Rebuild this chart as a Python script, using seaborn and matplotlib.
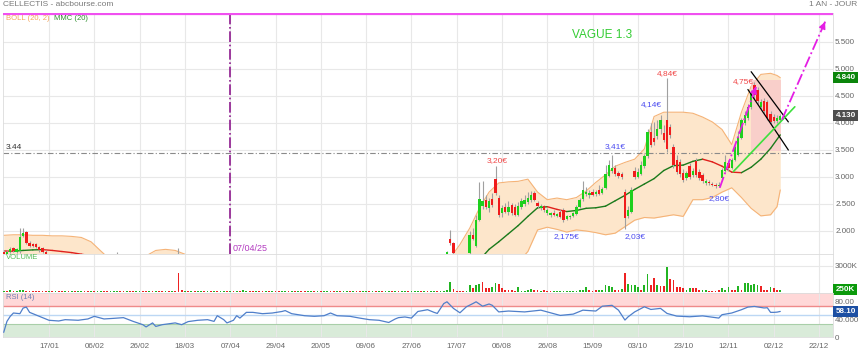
import numpy as np
import pandas as pd
import matplotlib
matplotlib.use("Agg")
import matplotlib.pyplot as plt
from matplotlib.patches import Rectangle
import seaborn as sns

nan = np.nan

# x axis = session number, 0 is the first session shown, 240 the last one
n_days = 241
late_start = 137
date_labels = ["17/01", "06/02", "26/02", "18/03", "07/04", "29/04", "20/05", "09/06",
               "27/06", "17/07", "06/08", "26/08", "15/09", "03/10", "23/10", "12/11",
               "02/12", "22/12"]
first_label_day = 14
label_step = 14

# candles, january (sessions 0-13)
jan_open = [1.62, 1.58, 1.62, 1.68, 1.62, 1.63, 1.90, 1.98, 1.78, 1.76, 1.75, 1.70, 1.68, 1.62]
jan_high = [1.64, 1.64, 1.70, 1.70, 1.68, 2.06, 2.06, 2.00, 1.82, 1.78, 1.77, 1.73, 1.70, 1.64]
jan_low = [1.56, 1.56, 1.60, 1.61, 1.60, 1.60, 1.88, 1.76, 1.70, 1.70, 1.68, 1.62, 1.60, 1.52]
jan_close = [1.58, 1.62, 1.66, 1.63, 1.66, 1.88, 1.96, 1.78, 1.72, 1.73, 1.70, 1.65, 1.62, 1.54]

# two wicks that poke above the bottom edge during spring
spike_days = [35, 54]
spike_open = [1.45, 1.46]
spike_high = [1.61, 1.68]
spike_low = [1.40, 1.42]
spike_close = [1.48, 1.44]

# candles from session 137 to 240 (nan = below the visible range)
late_open = [1.56, 1.86, 1.77, nan, nan, nan, nan, 1.60, 1.93, 1.72,
             2.20, 2.46, 2.58, 2.42, 2.60, 2.97, 2.62, 2.33, 2.45, 2.36,
             2.48, 2.44, 2.30, 2.44, 2.50, 2.54, 2.58, 2.70, 2.52, 2.42,
             2.46, 2.34, 2.30, 2.34, 2.28, 2.36, 2.38, 2.22, 2.25, 2.28,
             2.32, 2.45, 2.60, 2.68, 2.66, 2.73, 2.68, 2.75, 2.70, 2.80,
             3.02, 3.12, 3.17, 3.08, 3.06, 2.72, 2.28, 2.36, 3.12, 3.00,
             3.06, 3.20, 3.38, 3.84, 3.72, 3.76, 3.88, 3.82, 4.06, 3.92,
             3.56, 3.32, 3.28, 3.08, 2.98, 3.20, 3.04, 3.30, 3.10, 3.04,
             2.88, 2.91, 2.87, 2.85, 2.83, 2.98, 3.12, 3.26, 3.16, 3.32,
             3.40, 3.72, 4.00, 4.10, 4.30, 4.70, 4.62, 4.30, 4.40, 4.38,
             4.16, 4.12, 4.03, 4.06]
late_high = [1.63, 2.02, 1.79, nan, nan, nan, nan, 2.00, 2.05, 2.30,
             2.90, 2.92, 2.66, 2.62, 2.70, 3.20, 2.66, 2.48, 2.52, 2.56,
             2.52, 2.50, 2.54, 2.62, 2.66, 2.72, 2.74, 2.74, 2.56, 2.50,
             2.49, 2.42, 2.36, 2.38, 2.34, 2.40, 2.42, 2.30, 2.30, 2.36,
             2.48, 2.62, 2.92, 2.82, 2.76, 2.78, 2.76, 2.86, 2.82, 3.22,
             3.32, 3.41, 3.22, 3.12, 3.10, 2.78, 2.46, 2.82, 3.18, 3.16,
             3.30, 3.42, 3.88, 4.00, 4.02, 4.05, 4.14, 3.96, 4.84, 3.98,
             3.62, 3.40, 3.34, 3.14, 3.12, 3.26, 3.16, 3.36, 3.14, 3.08,
             2.96, 2.94, 2.90, 2.88, 2.90, 3.16, 3.40, 3.32, 3.36, 3.60,
             3.85, 4.10, 4.22, 4.36, 4.62, 4.75, 4.66, 4.44, 4.46, 4.42,
             4.22, 4.16, 4.14, 4.16]
late_low = [1.55, 1.74, 1.58, nan, nan, nan, nan, 1.58, 1.83, 1.70,
            2.18, 2.40, 2.40, 2.36, 2.44, 2.66, 2.26, 2.26, 2.33, 2.30,
            2.30, 2.28, 2.28, 2.40, 2.46, 2.50, 2.54, 2.56, 2.42, 2.38,
            2.36, 2.30, 2.26, 2.28, 2.26, 2.24, 2.175, 2.20, 2.22, 2.26,
            2.30, 2.42, 2.56, 2.64, 2.62, 2.64, 2.64, 2.66, 2.68, 2.78,
            3.00, 3.08, 3.02, 2.98, 2.96, 2.03, 2.24, 2.34, 2.96, 2.98,
            3.04, 3.16, 3.36, 3.56, 3.60, 3.70, 3.80, 3.64, 3.46, 3.72,
            3.16, 3.06, 3.00, 2.90, 2.94, 2.96, 3.00, 3.00, 2.94, 2.88,
            2.86, 2.86, 2.84, 2.80, 2.81, 2.96, 3.10, 3.12, 3.14, 3.30,
            3.38, 3.70, 3.96, 4.06, 4.26, 4.44, 4.36, 4.26, 4.18, 4.06,
            3.98, 4.00, 4.00, 4.02]
late_close = [1.61, 1.77, 1.60, nan, nan, nan, nan, 1.92, 1.85, 2.20,
              2.60, 2.56, 2.45, 2.55, 2.48, 2.70, 2.30, 2.42, 2.36, 2.44,
              2.34, 2.30, 2.46, 2.56, 2.58, 2.62, 2.66, 2.58, 2.46, 2.47,
              2.38, 2.38, 2.33, 2.30, 2.32, 2.26, 2.20, 2.28, 2.28, 2.33,
              2.45, 2.58, 2.75, 2.73, 2.70, 2.66, 2.72, 2.69, 2.78, 3.05,
              3.22, 3.16, 3.06, 3.02, 3.00, 2.24, 2.38, 2.76, 3.00, 3.10,
              3.22, 3.38, 3.84, 3.60, 3.64, 3.88, 4.06, 3.68, 3.52, 3.78,
              3.22, 3.10, 3.06, 2.94, 3.08, 3.00, 3.12, 3.04, 2.98, 2.92,
              2.93, 2.88, 2.86, 2.83, 2.86, 3.13, 3.28, 3.16, 3.32, 3.56,
              3.74, 4.05, 4.14, 4.30, 4.56, 4.52, 4.40, 4.38, 4.22, 4.10,
              4.02, 4.04, 4.10, 4.13]

# volume in thousands, one value per session, and bar colour (g / r)
volume_k = [120, 90, 150, 60, 80, 180, 140, 90, 60, 50,
            50, 60, 50, 60, 40, 30, 50, 40, 30, 40,
            30, 40, 50, 40, 30, 30, 40, 50, 40, 30,
            40, 30, 40, 60, 130, 110, 50, 40, 30, 40,
            50, 40, 30, 40, 50, 60, 40, 50, 60, 40,
            50, 70, 60, 40, 2120, 150, 100, 60, 50, 40,
            50, 60, 40, 50, 70, 60, 50, 80, 90, 60,
            70, 60, 90, 80, 250, 130, 60, 50, 70, 60,
            50, 60, 40, 70, 60, 50, 40, 60, 50, 40,
            30, 40, 50, 40, 30, 50, 40, 30, 40, 60,
            50, 40, 30, 40, 50, 40, 30, 40, 30, 40,
            50, 40, 60, 50, 40, 30, 40, 50, 60, 40,
            30, 40, 50, 60, 40, 50, 40, 60, 120, 80,
            60, 50, 40, 60, 70, 80, 90,
            150, 1150, 270, 80, 80, 80, 40, 770, 460, 770,
            920, 1080, 380, 460, 500, 1000, 880, 420, 190, 170,
            170, 80, 500, 120, 120, 150, 300, 150, 250, 60,
            250, 100, 100, 80, 100, 80, 80, 80, 90, 100,
            120, 200, 250, 500, 150, 130, 150, 250, 150, 770,
            650, 500, 250, 200, 320, 2120, 850, 770, 770, 550,
            150, 770, 2000, 770, 1620, 770, 650, 650, 2880, 1460,
            1380, 580, 500, 380, 250, 380, 460, 380, 250, 150,
            200, 100, 80, 100, 150, 460, 150, 540, 150, 200,
            690, 200, 960, 1040, 770, 880, 770, 690, 220, 220,
            580, 380, 150, 250]
volume_dir = ("grgrgggrrr" "rrrrgrgrrg" "rgrggrrgrg" "grrgggrrgr" "rggrrgrgrr"
              "grgrrrgrgr" "ggrgrgrggr" "grgrggrrgr" "rgrgrrggrg" "rgrrggrgrg"
              "grrgrggrgr" "rggrgrgrgg" "rgrggrgggr" "grggrgg"
              "ggrrrrggrg" "grrrggrrrr" "rrgggggrrg" "rrrggggggg"
              "ggggrrrggg" "ggrrgrgggg" "rggrrgrrgr" "rrrrggrrrg"
              "grrrrgggrr" "grgggggrrr" "grrg")

# bollinger (20, 2) and 20-day average, read at sample sessions
bb_days = [0, 3, 6, 9, 12, 15, 18, 21, 24, 27, 30, 32,
           44, 47, 50, 53, 56,
           138, 141, 144, 147, 150, 153, 156, 159, 162, 165, 168, 171, 174, 177,
           180, 183, 186, 189, 192, 195, 198, 201, 204, 207, 210, 213, 216, 219,
           222, 225, 228, 231, 234, 237, 239, 240]
bb_upper = [1.92, 1.93, 1.93, 1.92, 1.92, 1.91, 1.91, 1.90, 1.88, 1.80, 1.63, 1.52,
            1.54, 1.64, 1.66, 1.64, 1.57,
            1.50, 1.75, 2.05, 2.42, 2.72, 2.89, 2.91, 2.92, 2.96, 2.72, 2.58, 2.61, 2.58, 2.62,
            2.74, 2.90, 3.04, 3.20, 3.27, 3.33, 3.52, 4.12, 4.20, 4.20, 4.20, 4.18, 4.11, 4.02,
            3.88, 3.60, 4.20, 4.68, 4.90, 4.92, 4.88, 4.84]
bb_lower = [1.40, 1.40, 1.38, 1.38, 1.36, 1.35, 1.34, 1.33, 1.32, 1.30, 1.30, 1.30,
            1.30, 1.30, 1.30, 1.30, 1.30,
            1.30, 1.30, 1.28, 1.22, 1.20, 1.22, 1.30, 1.42, 1.62, 2.02, 2.07, 2.03, 1.98, 2.02,
            2.00, 1.97, 1.93, 1.96, 2.08, 2.20, 2.25, 2.24, 2.27, 2.30, 2.27, 2.58, 2.58, 2.62,
            2.72, 2.80, 2.62, 2.42, 2.28, 2.30, 2.45, 2.76]
bb_segments = [(0, 12), (12, 17), (17, 53)]

ma_days_jan = [0, 3, 6, 9, 12, 15, 18, 21, 24, 27]
ma_jan = [1.63, 1.625, 1.64, 1.65, 1.655, 1.64, 1.62, 1.60, 1.57, 1.54]
ma_days_late = [144, 147, 150, 153, 156, 159, 162, 165, 168, 171, 174, 177, 180, 183, 186,
                189, 192, 195, 198, 201, 204, 207, 210, 213, 216, 219, 222, 225, 228, 231,
                234, 237, 240]
ma_late = [1.40, 1.46, 1.66, 1.80, 1.95, 2.10, 2.27, 2.43, 2.45, 2.40, 2.36, 2.38, 2.42,
           2.43, 2.46, 2.56, 2.66, 2.77, 2.87, 2.97, 3.12, 3.21, 3.22, 3.29, 3.33, 3.28,
           3.20, 3.09, 3.08, 3.18, 3.33, 3.53, 3.78]

# RSI (14) read at sample sessions
rsi_days = [0, 1, 2, 3, 5, 6, 7, 8, 9, 11, 14, 17, 19, 23, 26, 28, 31, 34, 37, 40,
            43, 44, 46, 47, 49, 51, 53, 55, 57, 60, 63, 65, 66, 68, 69, 71, 72, 73, 75, 77,
            80, 83, 86, 87, 89, 93, 96, 99, 101, 103, 107, 110, 113, 116, 119, 121, 122, 124, 126, 128,
            131, 133, 134, 136, 137, 139, 141, 143, 145, 146, 148, 150, 151, 153, 156, 161, 166, 169, 172, 176,
            179, 183, 185, 188, 190, 192, 193, 195, 198, 200, 203, 205, 208, 212, 216, 220, 221, 222, 225, 228,
            230, 232, 235, 236, 237, 238, 239, 240]
rsi_vals = [10.6, 35.5, 46.8, 54.5, 53, 65.8, 68, 56, 53, 47, 38, 36.4, 39.4, 38, 41, 47, 41, 42.4, 44, 35.5,
            28, 22.9, 32, 24, 28, 30, 32, 28, 35, 38, 39.4, 35.5, 48.4, 39.4, 32, 38, 48.4, 43, 56, 56,
            53, 54.5, 58, 60, 53, 48.4, 47, 48.4, 54.5, 48.4, 47, 43, 39.4, 38, 33, 41, 44, 45.5, 43, 58,
            62, 56, 53.6, 76, 80, 65, 55, 68.7, 76, 80, 70, 75, 72, 57, 59, 57, 61, 55, 49, 52,
            61, 59, 70, 72, 61, 38.5, 46, 57, 68.7, 62.6, 65, 53.6, 47.5, 46, 48, 44, 43, 50.7, 54.5, 62,
            68, 69.5, 66, 66.5, 56, 56, 56.5, 58.1]

# hand drawn objects and labels, in (session, price)
price_notes = [("3,20€", 152.5, 3.30, "#f04646"), ("2,175€", 174, 1.89, "#4a4af0"),
               ("3,41€", 189, 3.56, "#4a4af0"), ("2,03€", 195, 1.89, "#4a4af0"),
               ("4,14€", 200, 4.35, "#4a4af0"), ("4,84€", 205, 4.91, "#f04646"),
               ("4,75€", 228.5, 4.76, "#f04646"), ("2,80€", 221, 2.61, "#4a4af0")]
arrow_up_1 = [(221.3, 2.80), (232.8, 4.72)]
arrow_up_2 = [(240.5, 4.06), (254.2, 5.92)]
channel_top = [(231.0, 4.95), (242.5, 4.02)]
channel_bottom = [(230.0, 4.62), (242.5, 3.50)]
lime_trend = [(225.5, 3.10), (244.5, 4.30)]
flag_box = (231.0, 240.3, 3.48, 4.80)
line_344 = 3.44
marked_day = 70

# ---------------------------------------------------------------- assemble
def full(jan, late, spikes):
    s = np.full(n_days, nan)
    s[:len(jan)] = jan
    s[late_start:] = late
    s[spike_days] = spikes
    return s

assert len(late_open) == n_days - late_start and len(volume_k) == n_days and len(volume_dir) == n_days

df = pd.DataFrame({
    "day": np.arange(n_days),
    "open": full(jan_open, late_open, spike_open),
    "high": full(jan_high, late_high, spike_high),
    "low": full(jan_low, late_low, spike_low),
    "close": full(jan_close, late_close, spike_close),
    "volume": volume_k,
    "dir": list(volume_dir),
})
rsi_df = pd.DataFrame({"day": rsi_days, "rsi": rsi_vals})

sns.set_theme(style="white")
plt.rcParams["font.family"] = ["Liberation Sans", "DejaVu Sans"]

W, H = 860, 351
fig = plt.figure(figsize=(W / 100, H / 100), dpi=100)

def panel(top, bottom):
    return [3 / W, 1 - bottom / H, 830 / W, (bottom - top) / H]

ax = fig.add_axes(panel(13, 254))
ax_v = fig.add_axes(panel(254, 293), sharex=ax)
ax_r = fig.add_axes(panel(293, 337), sharex=ax)

GREEN, RED = "#1ed01e", "#f01c1c"
tick_days = [first_label_day + label_step * k for k in range(len(date_labels))]

for a in (ax, ax_v, ax_r):
    a.set_facecolor("white")
    for s in a.spines.values():
        s.set_color("#dcdcdc")
        s.set_linewidth(0.6)
    a.set_xticks(tick_days)
    a.grid(True, axis="x", color="#e8e8e8", lw=0.8)
    a.yaxis.tick_right()
    a.tick_params(axis="both", length=0, labelsize=5.8, labelcolor="#666", pad=1.5)
ax.tick_params(labelbottom=False)
ax_v.tick_params(labelbottom=False)
ax.set_xlim(-0.22, 256.3)

# ---------------------------------------------------------------- price panel
ax.set_ylim(1.574, 6.037)
ax.set_yticks([2.0, 2.5, 3.0, 3.5, 4.0, 4.5, 5.0, 5.5])
ax.set_yticklabels([f"{v:.3f}" for v in [2.0, 2.5, 3.0, 3.5, 4.0, 4.5, 5.0, 5.5]])
ax.grid(True, axis="y", color="#e8e8e8", lw=0.8)

bb_days_a = np.array(bb_days)
for a0, a1 in bb_segments:
    xs = bb_days_a[a0:a1]
    up = np.array(bb_upper[a0:a1])
    lo = np.array(bb_lower[a0:a1])
    ax.fill_between(xs, lo, up, color="#fde6cb", lw=0, zorder=1)
    ax.plot(xs, up, color="#f5b377", lw=0.8, zorder=1.5)
    ax.plot(xs, lo, color="#f5b377", lw=0.8, zorder=1.5)

ax.add_patch(Rectangle((flag_box[0], flag_box[2]), flag_box[1] - flag_box[0],
                       flag_box[3] - flag_box[2], color="#f9caca", alpha=0.8, lw=0, zorder=1.6))

for xs, ys in ((ma_days_jan, ma_jan), (ma_days_late, ma_late)):
    for i in range(len(xs) - 1):
        col = "#1b7a1b" if ys[i + 1] >= ys[i] else "#e0201c"
        ax.plot(xs[i:i + 2], ys[i:i + 2], color=col, lw=1.0, zorder=2)

ax.axhline(line_344, color="#8a8a8a", lw=0.8, ls=(0, (5, 2, 1, 2)), zorder=2)
ax.text(0.6, line_344 + 0.035, "3.44", fontsize=6, color="#333", va="bottom", ha="left")
ax.axvline(marked_day, color="#8e1a8e", lw=1.2, ls="-.", zorder=2)
ax.text(marked_day + 0.6, 1.67, "07/04/25", fontsize=6.5, color="#b33cc0", va="center", ha="left")
ax.axhline(6.02, color="#f050f0", lw=1.6, zorder=3)

c = df.dropna(subset=["open"])
up = c["close"] >= c["open"]
ax.vlines(c["day"], c["low"], c["high"], color="#a0a0a0", lw=0.8, zorder=3)
ax.bar(c["day"][up], (c["close"] - c["open"])[up].clip(lower=0.012), bottom=c["open"][up],
       width=0.72, color=GREEN, lw=0, zorder=4)
ax.bar(c["day"][~up], (c["open"] - c["close"])[~up].clip(lower=0.012), bottom=c["close"][~up],
       width=0.72, color=RED, lw=0, zorder=4)

for (x0, y0), (x1, y1) in (channel_top, channel_bottom):
    ax.plot([x0, x1], [y0, y1], color="black", lw=0.9, zorder=5)
ax.plot(*zip(*lime_trend), color="#3ee03e", lw=1.2, zorder=5)
for (x0, y0), (x1, y1) in (arrow_up_1, arrow_up_2):
    ax.plot([x0, x1], [y0, y1], color="#e41ee4", lw=1.3, ls="-.", zorder=6)
    ax.annotate("", xy=(x1, y1), xytext=(x1 - (x1 - x0) * 0.08, y1 - (y1 - y0) * 0.08),
                arrowprops=dict(arrowstyle="-|>", color="#e41ee4", lw=1.0, mutation_scale=10),
                zorder=6)

for txt, x, y, col in price_notes:
    ax.text(x, y, txt, fontsize=6, color=col, ha="center", va="center", zorder=6)
ax.text(185, 5.63, "VAGUE 1.3", fontsize=8.5, color="#33cc33", ha="center", va="center")
ax.text(0.6, 5.93, "BOLL (20, 2)", fontsize=5.5, color="#f4a45c", va="center")
ax.text(15.5, 5.93, "MMC (20)", fontsize=5.5, color="#2f8f2f", va="center")

ytr = ax.get_yaxis_transform()
ax.text(1.003, 4.84, "4.840", transform=ytr, fontsize=5.8, color="white", fontweight="bold",
        va="center", ha="left", bbox=dict(boxstyle="square,pad=0.25", fc="#0b850b", ec="none"))
ax.text(1.003, 4.13, "4.130", transform=ytr, fontsize=5.8, color="white", fontweight="bold",
        va="center", ha="left", bbox=dict(boxstyle="square,pad=0.25", fc="#4d4d4d", ec="none"))

# ---------------------------------------------------------------- volume panel
ax_v.set_ylim(-150, 4350)
ax_v.set_yticks([3000])
ax_v.set_yticklabels(["3000K"])
ax_v.grid(True, axis="y", color="#e8e8e8", lw=0.8)
vcol = np.where(df["dir"] == "g", "#22b422", "#ee2222")
ax_v.bar(df["day"], df["volume"], width=0.55, color=vcol, lw=0, zorder=3)
ax_v.text(0.6, 4000, "VOLUME", fontsize=5.5, color="#55bb55", va="center")
ax_v.text(1.003, 250, "250K", transform=ax_v.get_yaxis_transform(), fontsize=5.8, color="white",
          fontweight="bold", va="center", ha="left",
          bbox=dict(boxstyle="square,pad=0.25", fc="#0b9a0b", ec="none"))

# ---------------------------------------------------------------- RSI panel
ax_r.set_ylim(0, 100)
ax_r.axhspan(70, 100, color="#ffd8d8", lw=0, zorder=0)
ax_r.axhline(70, color="#ef8a8a", lw=1.0, zorder=1)
ax_r.axhspan(0, 30, color="#d9ebd9", lw=0, zorder=0)
ax_r.axhline(30, color="#a9cfa9", lw=0.8, zorder=1)
ax_r.axhline(50, color="#bcd7f4", lw=1.0, zorder=1)
sns.lineplot(data=rsi_df, x="day", y="rsi", ax=ax_r, color="#4f7fca", lw=0.9,
             estimator=None, zorder=3)
ax_r.set_xlabel("")
ax_r.set_ylabel("")
ax_r.set_yticks([80, 40, 0])
ax_r.set_yticklabels(["80.00", "40.000", "0"])
ax_r.set_xticks(tick_days)
ax_r.set_xticklabels(date_labels)
ax_r.tick_params(axis="x", pad=4)
ax_r.text(0.6, 90, "RSI (14)", fontsize=5.5, color="#6d7fb5", va="center")
ax_r.text(1.003, 58.1, "58.10", transform=ax_r.get_yaxis_transform(), fontsize=5.8, color="white",
          fontweight="bold", va="center", ha="left",
          bbox=dict(boxstyle="square,pad=0.25", fc="#1c4fa3", ec="none"))

fig.text(3 / W, 1 - 5 / H, "CELLECTIS - abcbourse.com", fontsize=6, color="#7a7a7a", va="center")
fig.text(857 / W, 1 - 5 / H, "1 AN - JOUR", fontsize=6, color="#7a7a7a", va="center", ha="right")

fig.savefig("out.png", dpi=100)
